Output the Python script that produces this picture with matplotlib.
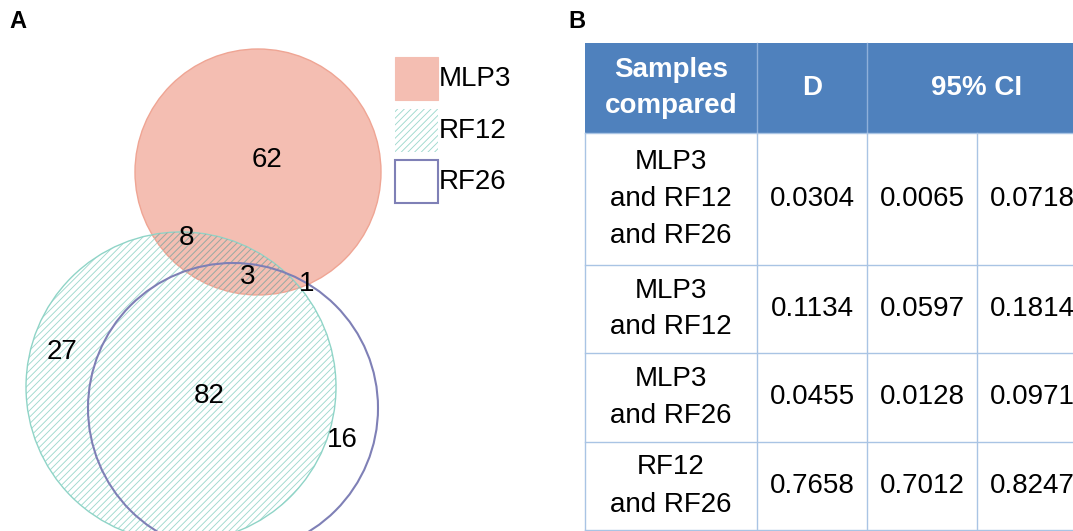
import matplotlib
matplotlib.use("Agg")
import matplotlib.pyplot as plt
from matplotlib.patches import Circle, Rectangle

plt.rcParams["font.family"] = ["Liberation Sans", "DejaVu Sans"]
plt.rcParams["hatch.linewidth"] = 0.65

# --- Venn data (panel A) ---
set_names = ["MLP3", "RF12", "RF26"]
region_names = ["MLP3 only", "MLP3&RF12", "all three", "MLP3&RF26",
                "RF12 only", "RF12&RF26", "RF26 only"]
region_counts = [62, 8, 3, 1, 27, 82, 16]

# --- table data (panel B) ---
header = ["Samples\ncompared", "D", "95% CI"]
samples = ["MLP3\nand RF12\nand RF26", "MLP3\nand RF12",
           "MLP3\nand RF26", "RF12\nand RF26"]
d_vals = [0.0304, 0.1134, 0.0455, 0.7658]
ci_low = [0.0065, 0.0597, 0.0128, 0.7012]
ci_high = [0.0718, 0.1814, 0.0971, 0.8247]

# layout (pixel space)
circles = {"MLP3": (258, 172, 123), "RF12": (181, 387, 155), "RF26": (233, 408, 145)}
label_pos = [(267, 160), (187, 238), (248, 277), (307, 284),
             (62, 352), (209, 396), (342, 440)]
RED, RED_EDGE = "#f4beb2", "#efa594"
TEAL = "#8fd4c7"
TEAL_HATCH = "#9fd9ce"
PURPLE = "#7f80b6"
HEAD = "#4f81bd"
GRID = "#a9c4e4"
HATCH = "/////"
FS = 20

fig = plt.figure(figsize=(10.73, 5.31), dpi=100)
ax = fig.add_axes([0, 0, 1, 1])
ax.set_xlim(0, 1073)
ax.set_ylim(531, 0)
ax.axis("off")

# panel A
mx, my, mr = circles["MLP3"]
tx, ty, tr = circles["RF12"]
px, py, pr = circles["RF26"]
red = Circle((mx, my), mr, facecolor=RED, edgecolor=RED_EDGE, lw=1.0, zorder=1)
ax.add_patch(red)
hatched = Circle((tx, ty), tr, facecolor="none", edgecolor=TEAL_HATCH, hatch=HATCH,
                 lw=0, zorder=2)
ax.add_patch(hatched)
ax.add_patch(Circle((tx, ty), tr, facecolor="none", edgecolor=TEAL, lw=1.0, zorder=2.2))
# hatch looks darker where it crosses the red circle
over = Circle((tx, ty), tr, facecolor="none", edgecolor="#ad9f98", hatch=HATCH,
              lw=0, zorder=2.5)
ax.add_patch(over)
over.set_clip_path(red)
ax.add_patch(Circle((px, py), pr, facecolor="none", edgecolor=PURPLE, lw=1.5, zorder=3))

for (x, y), n in zip(label_pos, region_counts):
    ax.text(x, y, str(n), fontsize=FS, ha="center", va="center", zorder=4)

# legend
leg_styles = [dict(facecolor=RED, edgecolor=RED, lw=0.8),
              dict(facecolor="none", edgecolor=TEAL_HATCH, hatch=HATCH, lw=0),
              dict(facecolor="white", edgecolor=PURPLE, lw=1.5)]
for i, (name, st) in enumerate(zip(set_names, leg_styles)):
    y0 = 57 + i * 51.5
    ax.add_patch(Rectangle((395, y0), 43, 43, zorder=3, **st))
    ax.text(439, y0 + 22, name, fontsize=FS, ha="left", va="center")

ax.text(9, 22, "A", fontsize=17, fontweight="bold", ha="left", va="center")
ax.text(568, 22, "B", fontsize=17, fontweight="bold", ha="left", va="center")

# panel B table
col_x = [585, 757, 867, 977, 1087]
row_y = [43, 133, 265, 353, 442, 530]
ax.add_patch(Rectangle((col_x[0], row_y[0]), col_x[-1] - col_x[0], row_y[1] - row_y[0],
                       facecolor=HEAD, edgecolor="none", zorder=1))
for x in col_x[1:3]:
    ax.plot([x, x], [row_y[0], row_y[1]], color="#8fb0da", lw=1.0, zorder=2)
for x in col_x[:4]:
    ax.plot([x, x], [row_y[1], row_y[-1]], color=GRID, lw=1.0, zorder=2)
for y in row_y[1:]:
    ax.plot([col_x[0], col_x[-1]], [y, y], color=GRID, lw=1.0, zorder=2)

head_cx = [(col_x[0] + col_x[1]) / 2, (col_x[1] + col_x[2]) / 2, (col_x[2] + col_x[4]) / 2]
hy = (row_y[0] + row_y[1]) / 2
for cx, h in zip(head_cx, header):
    ax.text(cx, hy, h, color="white", fontsize=FS, fontweight="bold",
            ha="center", va="center", linespacing=1.5)

for i in range(len(samples)):
    cy = (row_y[i + 1] + row_y[i + 2]) / 2
    vals = [samples[i], f"{d_vals[i]:.4f}", f"{ci_low[i]:.4f}", f"{ci_high[i]:.4f}"]
    for j, v in enumerate(vals):
        cx = (col_x[j] + col_x[j + 1]) / 2
        ax.text(cx, cy, v, fontsize=FS, ha="center", va="center", linespacing=1.55)

fig.savefig("out.png", dpi=100)
